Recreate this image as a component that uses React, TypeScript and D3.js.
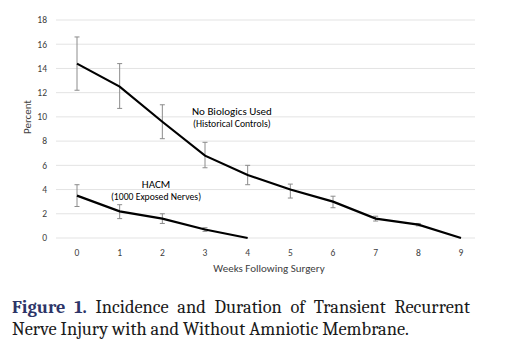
import { useRef, useEffect } from "react"
import * as d3 from "d3"

const weeks = [0, 1, 2, 3, 4, 5, 6, 7, 8, 9]
const yTicks = [0, 2, 4, 6, 8, 10, 12, 14, 16, 18]

// No Biologics Used (Historical Controls)
const controlValues = [14.4, 12.5, 9.6, 6.8, 5.2, 4.0, 3.0, 1.6, 1.1, 0]
const controlLow = [12.2, 10.7, 8.2, 5.8, 4.4, 3.3, 2.5, 1.4, 1.0, 0]
const controlHigh = [16.6, 14.4, 11.0, 7.9, 6.0, 4.45, 3.45, 1.8, 1.2, 0]

// HACM (1000 Exposed Nerves)
const hacmWeeks = [0, 1, 2, 3, 4]
const hacmValues = [3.5, 2.2, 1.6, 0.7, 0]
const hacmLow = [2.6, 1.6, 1.2, 0.55, 0]
const hacmHigh = [4.4, 2.75, 2.0, 0.85, 0]

const captionLabel = ["Figure", "1."]
const captionLine1 = ["Incidence", "and", "Duration", "of", "Transient", "Recurrent"]
const captionLine2 = "Nerve Injury with and Without Amniotic Membrane."

export default function App() {
  const svgRef = useRef<SVGSVGElement | null>(null)

  useEffect(() => {
    if (!svgRef.current) return
    document.body.style.margin = "0"
    const svg = d3.select(svgRef.current)
    svg.selectAll("*").remove()

    const font = "Carlito, 'Open Sans', 'Liberation Sans', sans-serif"
    const x = d3.scaleLinear().domain([0, 9]).range([77, 461])
    const y = d3.scaleLinear().domain([0, 18]).range([238, 20])

    // Gridlines
    svg
      .append("g")
      .selectAll("line")
      .data(yTicks)
      .enter()
      .append("line")
      .attr("x1", 56)
      .attr("x2", 475)
      .attr("y1", (d) => y(d))
      .attr("y2", (d) => y(d))
      .attr("stroke", "#e3e3e3")
      .attr("stroke-width", 1)

    // Y tick labels
    svg
      .append("g")
      .selectAll("text")
      .data(yTicks)
      .enter()
      .append("text")
      .attr("x", 47)
      .attr("y", (d) => y(d))
      .attr("dy", "0.35em")
      .attr("text-anchor", "end")
      .style("font-family", font)
      .style("font-size", "9.5px")
      .attr("fill", "#404040")
      .text((d) => d)

    // X tick labels
    svg
      .append("g")
      .selectAll("text")
      .data(weeks)
      .enter()
      .append("text")
      .attr("x", (d) => x(d))
      .attr("y", 256)
      .attr("text-anchor", "middle")
      .style("font-family", font)
      .style("font-size", "9.5px")
      .attr("fill", "#404040")
      .text((d) => d)

    svg
      .append("text")
      .attr("x", 269)
      .attr("y", 272)
      .attr("text-anchor", "middle")
      .style("font-family", font)
      .style("font-size", "11px")
      .attr("fill", "#404040")
      .text("Weeks Following Surgery")

    svg
      .append("text")
      .attr("transform", "translate(31,117) rotate(-90)")
      .attr("text-anchor", "middle")
      .style("font-family", font)
      .style("font-size", "11px")
      .attr("fill", "#404040")
      .text("Percent")

    const line = d3
      .line<number>()
      .x((_, i) => x(i))
      .y((d) => y(d))

    const drawSeries = (xs: number[], vals: number[], lo: number[], hi: number[]) => {
      const g = svg.append("g")
      const idx = xs.map((_, i) => i).filter((i) => hi[i] - lo[i] > 0)
      g.selectAll(".eb")
        .data(idx)
        .enter()
        .append("path")
        .attr("d", (i) => {
          const cx = x(xs[i])
          const t = y(hi[i])
          const b = y(lo[i])
          return `M${cx},${t}V${b}M${cx - 2.5},${t}H${cx + 2.5}M${cx - 2.5},${b}H${cx + 2.5}`
        })
        .attr("stroke", "#8c8c8c")
        .attr("stroke-width", 1)
        .attr("fill", "none")
      g.append("path")
        .datum(vals)
        .attr("d", line)
        .attr("fill", "none")
        .attr("stroke", "#000")
        .attr("stroke-width", 2.2)
    }

    drawSeries(weeks, controlValues, controlLow, controlHigh)
    drawSeries(hacmWeeks, hacmValues, hacmLow, hacmHigh)

    // Series annotations
    svg
      .append("text")
      .attr("x", 192)
      .attr("y", 115)
      .style("font-family", font)
      .style("font-size", "11px")
      .attr("fill", "#000")
      .text("No Biologics Used")
    svg
      .append("text")
      .attr("x", 193)
      .attr("y", 127)
      .style("font-family", font)
      .style("font-size", "9.7px")
      .attr("fill", "#000")
      .text("(Historical Controls)")
    svg
      .append("text")
      .attr("x", 156)
      .attr("y", 188)
      .attr("text-anchor", "middle")
      .style("font-family", font)
      .style("font-size", "11px")
      .attr("fill", "#000")
      .text("HACM")
    svg
      .append("text")
      .attr("x", 156)
      .attr("y", 200)
      .attr("text-anchor", "middle")
      .style("font-family", font)
      .style("font-size", "9.7px")
      .attr("fill", "#000")
      .text("(1000 Exposed Nerves)")

    // Caption, first line justified
    const serif = "Cambria, Caladea, 'DejaVu Serif', 'Liberation Serif', serif"
    const cap = svg.append("g").style("font-family", serif).style("font-size", "18.4px")
    const left = 12
    const right = 470
    const words = [
      ...captionLabel.map((t) => ({ t, bold: true })),
      ...captionLine1.map((t) => ({ t, bold: false })),
    ]
    const nodes = words.map((w) =>
      cap
        .append("text")
        .attr("y", 313)
        .attr("fill", w.bold ? "#2d3568" : "#1a1a1a")
        .style("font-weight", w.bold ? "bold" : "normal")
        .text(w.t)
    )
    const widths = nodes.map((n) => (n.node() as SVGTextElement).getComputedTextLength())
    const gap = (right - left - d3.sum(widths)) / (nodes.length - 1)
    let cx = left
    nodes.forEach((n, i) => {
      n.attr("x", cx)
      cx += widths[i] + gap
    })
    cap.append("text").attr("x", left).attr("y", 335).attr("fill", "#1a1a1a").text(captionLine2)
  }, [])

  return <svg ref={svgRef} width={530} height={351} style={{ display: "block", background: "#fff" }}></svg>
}
